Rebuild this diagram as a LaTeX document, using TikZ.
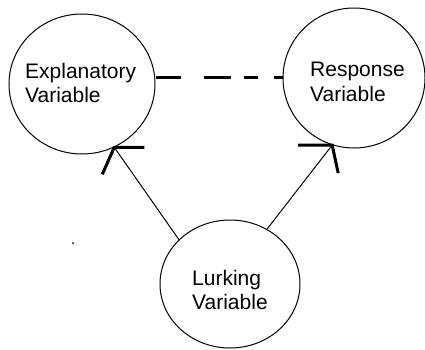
\documentclass[tikz,border=0pt]{standalone}
\usepackage{fontspec}
\setmainfont{Liberation Sans}
\usetikzlibrary{shapes.geometric}
\begin{document}
\begin{tikzpicture}[x=1pt,y=-1pt,
  varcircle/.style={draw,ellipse,line width=1pt,inner sep=0pt},
  vartext/.style={anchor=north west,inner sep=0pt,align=left,
    font=\fontsize{21}{24.5}\selectfont},
  thinline/.style={line width=1pt},
  headstroke/.style={line width=3pt},
  linkdash/.style={line width=3pt,dash pattern=on 25pt off 23pt on 27pt off 13pt on 14pt off 16pt on 10pt}]
\useasboundingbox[fill=white] (0,0) rectangle (425,350);
\node[varcircle,minimum width=146pt,minimum height=140pt] (expl) at (82,84) {};
\node[varcircle,minimum width=142pt,minimum height=140pt] (resp) at (354,78) {};
\node[varcircle,minimum width=140pt,minimum height=128pt] (lurk) at (230,284) {};
\node[vartext] (explt) at (25,63) {Explanatory\\Variable};
\node[vartext] (respt) at (310,62) {Response\\Variable};
\node[vartext] (lurkt) at (192,270) {Lurking\\Variable};
% dashed link
\draw[linkdash] (expl.east |- resp.west) -- (resp.west);
% arrows
\draw[thinline] (lurk.139) -- (expl.-63);
\draw[headstroke] ([xshift=30pt]expl.-63) -- (expl.-63) -- ++(-12,27);
\draw[thinline] (lurk.56) -- (resp.-108);
\draw[headstroke] ([xshift=-34pt]resp.-108) -- (resp.-108) -- ++(6,28);
% stray dot
\fill (73,243) circle (1);
\end{tikzpicture}
\end{document}
